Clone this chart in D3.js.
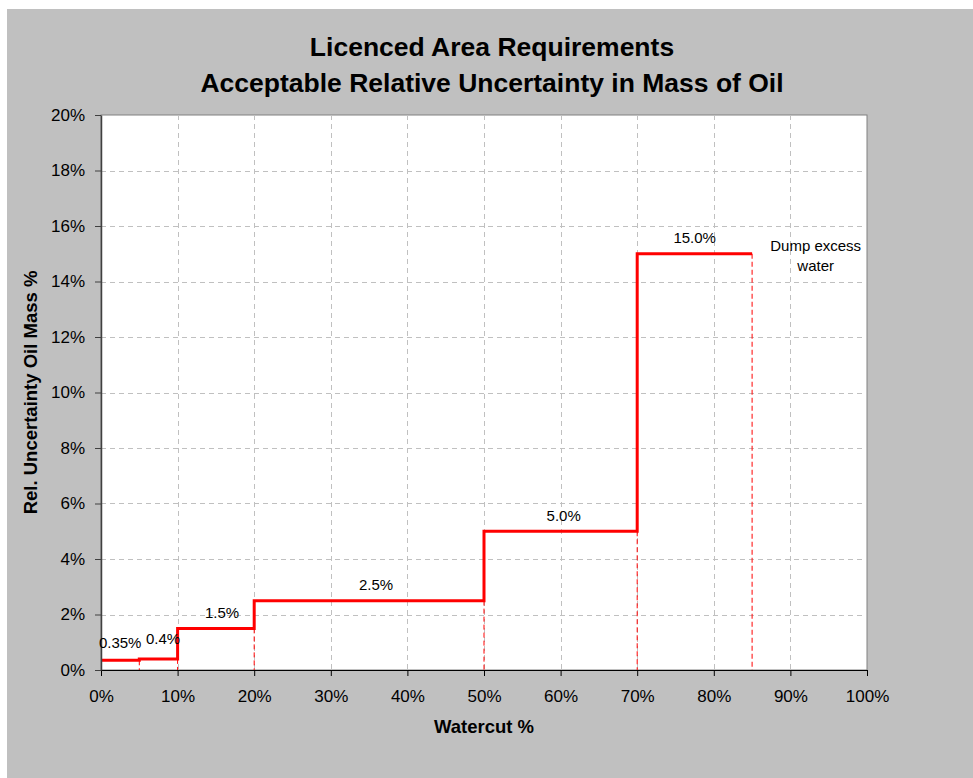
<!DOCTYPE html>
<html><head><meta charset="utf-8">
<script src="https://cdn.jsdelivr.net/npm/d3@7"></script>
<style>body{margin:0;background:#fff;}svg{display:block;font-family:"Liberation Sans",Arial,sans-serif;}</style>
</head><body>
<svg id="chart" width="973" height="778"></svg>
<script>
// Step boundaries (watercut %) and acceptable uncertainty (%) on each step
const stepStarts = [0, 5, 10, 20, 50, 70];
const stepEnds   = [5, 10, 20, 50, 70, 85];
const stepValues = [0.35, 0.4, 1.5, 2.5, 5.0, 15.0];
const stepLabels = ["0.35%", "0.4%", "1.5%", "2.5%", "5.0%", "15.0%"];
const labelX = [2.5, 8.1, 15.8, 35.9, 60.4, 77.5];
const labelY = [0.94, 1.08, 2.02, 3.03, 5.51, 15.53];
const xTicks = [0,10,20,30,40,50,60,70,80,90,100];
const yTicks = [0,2,4,6,8,10,12,14,16,18,20];
const titleLines = ["Licenced Area Requirements", "Acceptable Relative Uncertainty in Mass of Oil"];
const noteLines = ["Dump excess", "water"];
const noteX = 93.3, noteY = 15.24;

const svg = d3.select("#chart");
svg.append("rect").attr("x",7).attr("y",9).attr("width",966).attr("height",769).attr("fill","#c0c0c0");

const L=101, R=867, T=115, B=670;
const x = d3.scaleLinear().domain([0,100]).range([L,R]);
const y = d3.scaleLinear().domain([0,20]).range([B,T]);

svg.append("rect").attr("x",L).attr("y",T).attr("width",R-L).attr("height",B-T)
  .attr("fill","#fff").attr("stroke","#808080").attr("stroke-width",1);

// grid
const g = svg.append("g");
g.selectAll("line.vx").data(xTicks.slice(1,-1)).join("line")
  .attr("x1",d=>Math.round(x(d))+0.5).attr("x2",d=>Math.round(x(d))+0.5)
  .attr("y1",T).attr("y2",B).attr("stroke","#c0c0c0").attr("stroke-dasharray","5,4");
g.selectAll("line.hy").data(yTicks.slice(1,-1)).join("line")
  .attr("y1",d=>Math.round(y(d))+0.5).attr("y2",d=>Math.round(y(d))+0.5)
  .attr("x1",L).attr("x2",R).attr("stroke","#c0c0c0").attr("stroke-dasharray","5,4");

// dashed red drop lines
const drops = stepEnds.map((e,i)=>({x:e, v:stepValues[i]}));
g.selectAll("line.drop").data(drops).join("line")
  .attr("x1",d=>x(d.x)).attr("x2",d=>x(d.x))
  .attr("y1",d=>y(d.v)).attr("y2",B)
  .attr("stroke","#ff0000").attr("stroke-width",1).attr("stroke-dasharray","5,3");

// step line
const pts = [];
stepStarts.forEach((s,i)=>{ pts.push([s,stepValues[i]]); pts.push([stepEnds[i],stepValues[i]]); });
svg.append("path").datum(pts)
  .attr("d", d3.line().x(d=>x(d[0])).y(d=>y(d[1])))
  .attr("fill","none").attr("stroke","#ff0000").attr("stroke-width",3).attr("stroke-linejoin","miter");

// axes
const xAxis = svg.append("g").attr("transform",`translate(0,${B})`)
  .call(d3.axisBottom(x).tickValues(xTicks).tickFormat(d=>d+"%").tickSize(6).tickSizeOuter(0));
const yAxis = svg.append("g").attr("transform",`translate(${L},0)`)
  .call(d3.axisLeft(y).tickValues(yTicks).tickFormat(d=>d+"%").tickSize(6).tickSizeOuter(0));
[xAxis,yAxis].forEach(a=>{
  a.selectAll("text").attr("font-size",17).attr("fill","#000").attr("font-family","Liberation Sans, Arial, sans-serif");
});
xAxis.select(".domain").attr("stroke","#000");
xAxis.selectAll(".tick line").attr("stroke","#000");
xAxis.selectAll("text").attr("y",27).attr("dy","0.32em");
yAxis.select(".domain").attr("stroke","#404040").attr("stroke-width",1.5);
yAxis.selectAll(".tick line").attr("stroke","#404040");
yAxis.selectAll("text").attr("x",-16);

// step labels
svg.selectAll("text.lbl").data(stepLabels).join("text")
  .attr("x",(d,i)=>x(labelX[i])).attr("y",(d,i)=>y(labelY[i]))
  .attr("text-anchor","middle").attr("dominant-baseline","middle")
  .attr("font-size",15).attr("fill","#000").text(d=>d);

svg.selectAll("text.note").data(noteLines).join("text")
  .attr("x",x(noteX)).attr("y",(d,i)=>y(noteY)+i*20)
  .attr("text-anchor","middle").attr("dominant-baseline","middle")
  .attr("font-size",15).attr("fill","#000").text(d=>d);

// titles
svg.selectAll("text.title").data(titleLines).join("text")
  .attr("x",492).attr("y",(d,i)=>49+i*36)
  .attr("text-anchor","middle").attr("dominant-baseline","middle")
  .attr("font-size",26.5).attr("font-weight","bold").attr("fill","#000").text(d=>d);

svg.append("text").attr("x",484).attr("y",728)
  .attr("text-anchor","middle").attr("dominant-baseline","middle")
  .attr("font-size",18.5).attr("font-weight","bold").text("Watercut %");
svg.append("text").attr("transform",`translate(32,${(T+B)/2}) rotate(-90)`)
  .attr("text-anchor","middle").attr("dominant-baseline","middle")
  .attr("font-size",18.5).attr("font-weight","bold").text("Rel. Uncertainty Oil Mass %");
</script>
</body></html>
